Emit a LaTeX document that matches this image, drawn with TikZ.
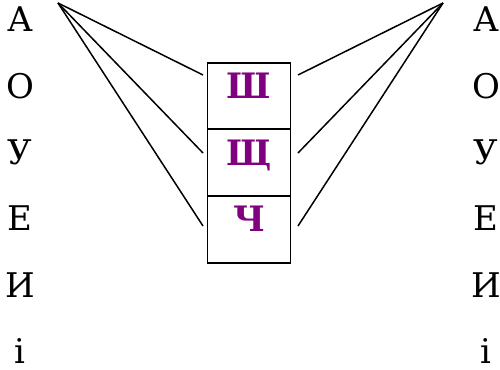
\documentclass[tikz,border=0pt]{standalone}
\usepackage{fontspec}
\setmainfont{DejaVu Serif}
\definecolor{hushpurple}{RGB}{128,0,128}
\begin{document}
\begin{tikzpicture}[x=1pt,y=1pt,
  vowel/.style={anchor=base,inner sep=0pt,font=\fontsize{34}{34}\selectfont},
  cell/.style={draw,line width=1.9pt,minimum width=83pt,minimum height=66.7pt,inner sep=0pt},
  hush/.style={anchor=base,inner sep=0pt,text=hushpurple,font=\fontsize{35}{35}\selectfont\bfseries},
  wire/.style={line width=1.5pt}]
  \useasboundingbox (0,0) rectangle (500,369);
  % vowels on both sides
  \foreach \v [count=\i from 0] in {А,О,У,Е,И,і} {
    \node[vowel] (l\i) at (20,337-66.3*\i) {\v};
    \node[vowel] (r\i) at (486,337-66.3*\i) {\v};
  }
  % the three cells
  \node[cell] (c1) at (249,272.95) {};
  \node[cell] (c2) at (249,206.25) {};
  \node[cell] (c3) at (249,139.55) {};
  \node[hush] (sh) at (249,270.4) {Ш};
  \node[hush] (shch) at (249,203.8) {Щ};
  \node[hush] (ch) at (249,137.2) {Ч};
  % fans
  \coordinate (apexL) at (58,366);
  \coordinate (apexR) at (443,366);
  \foreach \k/\h in {1/294,2/216,3/143} {
    \coordinate (inL\k) at (203,\h);
    \coordinate (inR\k) at (298,\h);
    \draw[wire] (apexL) -- (inL\k);
    \draw[wire] (apexR) -- (inR\k);
  }
\end{tikzpicture}
\end{document}
